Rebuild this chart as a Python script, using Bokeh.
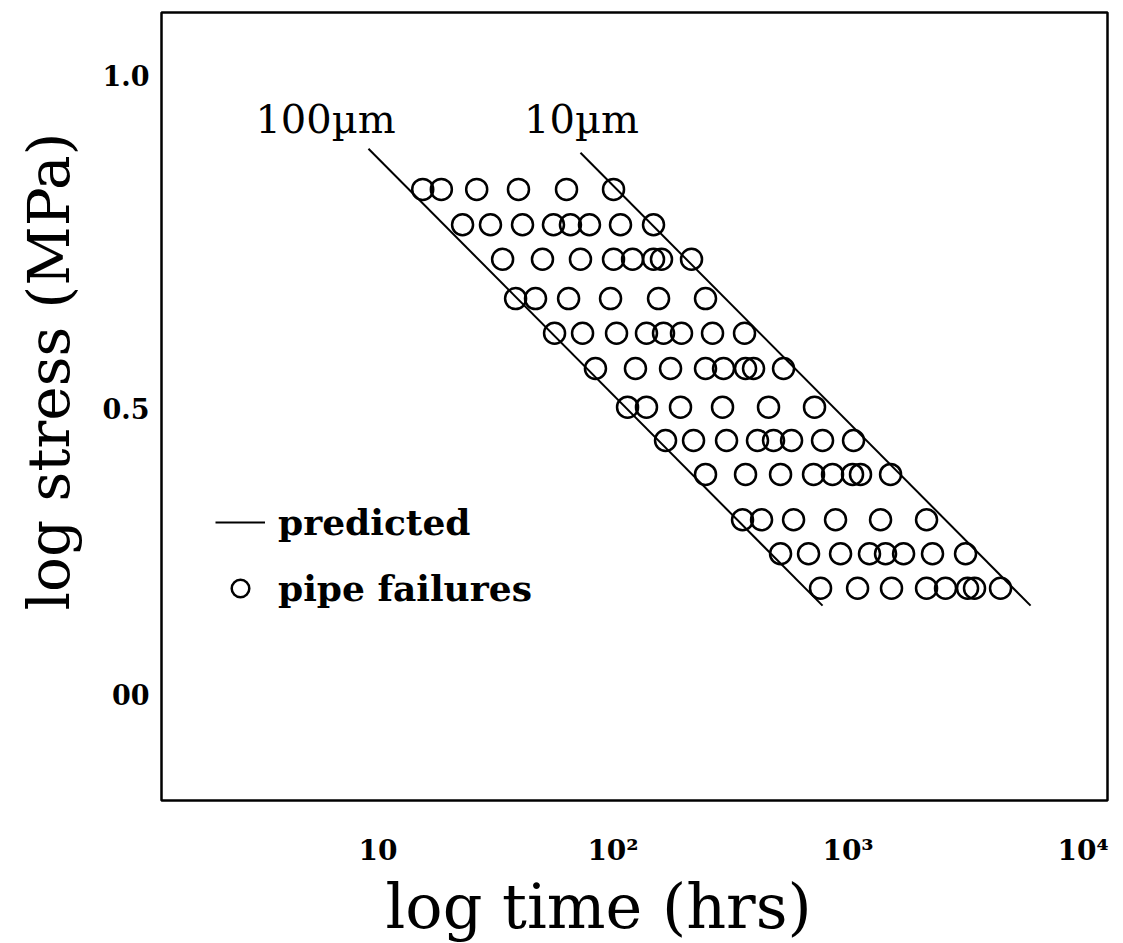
import numpy as np
from bokeh.plotting import figure
from bokeh.models import FixedTicker, Label, Legend, LegendItem, Range1d, Title
from bokeh.embed import file_html
from bokeh.resources import INLINE

# ---- data ----
# stress level (log stress, MPa) of each row of pipe failures
row_stress = [0.829, 0.776, 0.724, 0.665, 0.613, 0.560,
              0.502, 0.452, 0.401, 0.333, 0.282, 0.230]

# failure times (hrs) for each row
t_row1 = [15.5, 18.6, 26.3, 39.6, 63.4, 100.5]
t_row2 = [22.9, 30.1, 41.2, 55.8, 65.9, 79.4, 107.6, 148.7]
t_row3 = [33.9, 50.1, 72.7, 100.5, 121.1, 148.7, 160.8, 215.8]
t_row4 = [38.5, 46.8, 64.7, 97.6, 156.2, 247.5]
t_row5 = [56.4, 74.2, 103.5, 138.8, 164.0, 195.6, 265.1, 362.7]
t_row6 = [84.2, 124.6, 175.7, 247.5, 295.3, 366.3, 396.2, 531.6]
t_row7 = [115.3, 138.8, 193.7, 292.4, 458.8, 720.1]
t_row8 = [167.3, 220.1, 304.1, 411.9, 481.9, 575.0, 778.9, 1055.4]
t_row9 = [247.5, 366.3, 516.2, 713.2, 859.0, 1045.0, 1130.0, 1517.0]
t_row10 = [355.7, 428.5, 586.4, 884.7, 1375.0, 2158.0]
t_row11 = [516.2, 679.1, 929.3, 1234.0, 1444.0, 1723.0, 2288.0, 3162.0]
t_row12 = [763.8, 1098.0, 1531.0, 2158.0, 2599.0, 3225.0, 3453.0, 4456.0]

time_rows = [t_row1, t_row2, t_row3, t_row4, t_row5, t_row6,
             t_row7, t_row8, t_row9, t_row10, t_row11, t_row12]

# predicted lines (end points)
pred_100um_t = [9.11, 779.0]
pred_100um_s = [0.890, 0.204]
pred_10um_t = [72.7, 5980.0]
pred_10um_s = [0.884, 0.204]

x_ticks = [10, 100, 1000, 10000]
x_tick_labels = ["10", "10\u00b2", "10\u00b3", "10\u2074"]
y_ticks = [0.07, 0.5, 1.0]
y_tick_labels = ["00", "0.5", "1.0"]

fail_t = [t for row in time_rows for t in row]
fail_s = [s for row, s in zip(time_rows, row_stress) for _ in row]

SERIF = "DejaVu Serif"

p = figure(width=1123, height=943, x_axis_type="log",
           x_range=Range1d(1.199, 12706), y_range=Range1d(-0.0886, 1.0946),
           output_backend="svg", toolbar_location=None)
p.min_border_left = 161
p.min_border_right = 16
p.min_border_top = 12
p.min_border_bottom = 143
p.background_fill_color = "white"
p.border_fill_color = "white"
p.outline_line_color = "black"
p.outline_line_width = 2.5
p.xgrid.visible = False
p.ygrid.visible = False

for ax in (p.xaxis[0], p.yaxis[0]):
    ax.axis_line_color = None
    ax.major_tick_line_color = None
    ax.minor_tick_line_color = None
    ax.major_label_text_font = SERIF
    ax.major_label_text_font_style = "bold"
    ax.major_label_text_color = "black"

p.xaxis.ticker = FixedTicker(ticks=x_ticks, minor_ticks=[])
p.xaxis.major_label_overrides = dict(zip(x_ticks, x_tick_labels))
p.xaxis.major_label_text_font_size = "28px"
p.xaxis.major_label_standoff = 27

p.yaxis.ticker = FixedTicker(ticks=y_ticks, minor_ticks=[])
p.yaxis.major_label_overrides = dict(zip(y_ticks, y_tick_labels))
p.yaxis.major_label_text_font_size = "27px"
p.yaxis.major_label_standoff = 6

r_l100 = p.line(pred_100um_t, pred_100um_s, line_color="black", line_width=2)
r_l10 = p.line(pred_10um_t, pred_10um_s, line_color="black", line_width=2)
r_c = p.scatter(fail_t, fail_s, marker="circle", size=21, fill_color=None,
                line_color="black", line_width=2.5)

p.add_layout(Label(x=5.98, y=0.934, text="100\u00b5m", text_align="center",
                   text_baseline="alphabetic", text_font=SERIF,
                   text_font_size="40px", text_color="black"))
p.add_layout(Label(x=73.4, y=0.934, text="10\u00b5m", text_align="center",
                   text_baseline="alphabetic", text_font=SERIF,
                   text_font_size="40px", text_color="black"))

# axis titles
xt = Title(text="log time (hrs)", align="left", offset=224, standoff=-3,
           text_font=SERIF, text_font_size="62px", text_font_style="normal",
           text_color="black")
p.add_layout(xt, "below")
yt = Title(text="log stress (MPa)", align="left", offset=190, standoff=29,
           vertical_align="top",
           text_font=SERIF, text_font_size="58px", text_font_style="normal",
           text_color="black")
p.add_layout(yt, "left")

legend = Legend(items=[LegendItem(label="predicted", renderers=[r_l100]),
                       LegendItem(label="pipe failures", renderers=[r_c])],
                location=(54, 190))
legend.label_text_font = SERIF
legend.label_text_font_style = "bold"
legend.label_text_font_size = "36px"
legend.label_text_color = "black"
legend.glyph_width = 50
legend.glyph_height = 44
legend.label_height = 44
legend.spacing = 22
legend.padding = 0
legend.margin = 0
legend.label_standoff = 13
legend.border_line_color = None
legend.background_fill_alpha = 0
p.add_layout(legend)

open("out.html", "w").write(file_html(p, INLINE))
